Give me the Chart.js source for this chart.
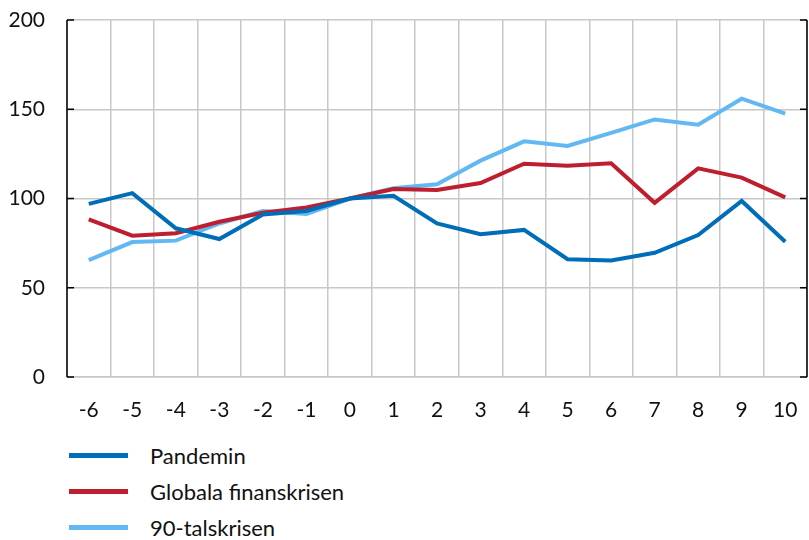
<!DOCTYPE html>
<html lang="sv">
<head>
<meta charset="utf-8">
<script src="https://cdn.jsdelivr.net/npm/chart.js@4"></script>
<style>
  body { margin: 0; background: #fff; font-family: Lato, "Open Sans", sans-serif; }
  #wrap { position: relative; width: 809px; height: 430px; }
  #legend { list-style: none; margin: 0; padding: 0; position: absolute; left: 69px; top: 437px; }
  #legend li { display: flex; align-items: center; height: 36px; font-size: 22px; color: #111; }
  #legend span.swatch { display: inline-block; width: 59px; height: 5px; margin-right: 22px; }
</style>
</head>
<body>
<div id="wrap"><canvas id="chart"></canvas></div>
<ul id="legend"></ul>
<script>
// kategorier (år från krisens start)
const categories = ['-6', '-5', '-4', '-3', '-2', '-1', '0', '1', '2', '3', '4', '5', '6', '7', '8', '9', '10'];

// serier
const pandemin = [97, 103, 83.3, 77.3, 91, 93, 100, 101.5, 86, 80, 82.4, 66, 65.3, 69.6, 79.5, 98.6, 75.8];
const finanskrisen = [88.3, 79.2, 80.5, 87, 92, 95, 100, 105.3, 104.8, 108.7, 119.5, 118.4, 119.7, 97.6, 116.9, 111.7, 100.6];
const talskrisen90 = [65.5, 75.6, 76.4, 86, 93, 91.3, 100, 105.7, 108, 121.2, 132, 129.4, 136.8, 144.3, 141.3, 155.9, 147.5];

const yTicks = [0, 50, 100, 150, 200];

// axellinjer med tickmarkeringar inåt (vänster och höger)
const innerTicks = {
    id: 'innerTicks',
    afterDraw(chart) {
        const ctx = chart.ctx;
        const area = chart.chartArea;
        const y = chart.scales.y;
        ctx.save();
        ctx.strokeStyle = '#000';
        ctx.lineWidth = 1.5;
        [area.left, area.right].forEach(function(x, i) {
            ctx.beginPath();
            ctx.moveTo(x, area.top);
            ctx.lineTo(x, area.bottom);
            yTicks.forEach(function(v) {
                const py = y.getPixelForValue(v);
                ctx.moveTo(x, py);
                ctx.lineTo(i === 0 ? x + 7 : x - 7, py);
            });
            ctx.stroke();
        });
        ctx.restore();
    }
};

const ctx = document.getElementById('chart').getContext('2d');
const chart = new Chart(ctx, {
    type: 'line',
    data: {
        labels: categories,
        datasets: [
            { label: 'Pandemin', data: pandemin, borderColor: '#006db8', backgroundColor: '#006db8' },
            { label: 'Globala finanskrisen', data: finanskrisen, borderColor: '#be1e2d', backgroundColor: '#be1e2d' },
            { label: '90-talskrisen', data: talskrisen90, borderColor: '#63b8f3', backgroundColor: '#63b8f3' }
        ]
    },
    options: {
        responsive: true,
        maintainAspectRatio: false,
        animation: false,
        layout: { padding: { top: 20, left: 8, right: 2, bottom: 0 } },
        elements: {
            line: { borderWidth: 4, tension: 0, borderCapStyle: 'butt', borderJoinStyle: 'miter' },
            point: { radius: 0, hoverRadius: 0 }
        },
        plugins: {
            legend: { display: false },
            tooltip: { enabled: false }
        },
        scales: {
            x: {
                offset: true,
                grid: { offset: true, color: '#c8c8c8', lineWidth: 1.5, drawTicks: false },
                border: { color: '#c8c8c8', width: 1.5 },
                ticks: { color: '#111', font: { family: 'Lato', size: 21 }, padding: 21, maxRotation: 0, autoSkip: false },
                afterFit(scale) {
                    scale.height = 53;
                    scale.paddingLeft = 0;
                    scale.paddingRight = 0;
                }
            },
            y: {
                min: 0,
                max: 200,
                grid: { color: '#c8c8c8', lineWidth: 1.5, drawTicks: false },
                border: { display: false },
                ticks: { stepSize: 50, color: '#111', font: { family: 'Lato', size: 21 }, padding: 22 },
                afterFit(scale) {
                    scale.width = 59;
                    scale.paddingTop = 0;
                    scale.paddingBottom = 0;
                }
            }
        }
    },
    plugins: [innerTicks]
});

// HTML-förklaring
const legend = document.getElementById('legend');
chart.data.datasets.forEach(function(ds) {
    const li = document.createElement('li');
    li.innerHTML = '<span class="swatch" style="background:' + ds.borderColor + '"></span>' + ds.label;
    legend.appendChild(li);
});
</script>
</body>
</html>
